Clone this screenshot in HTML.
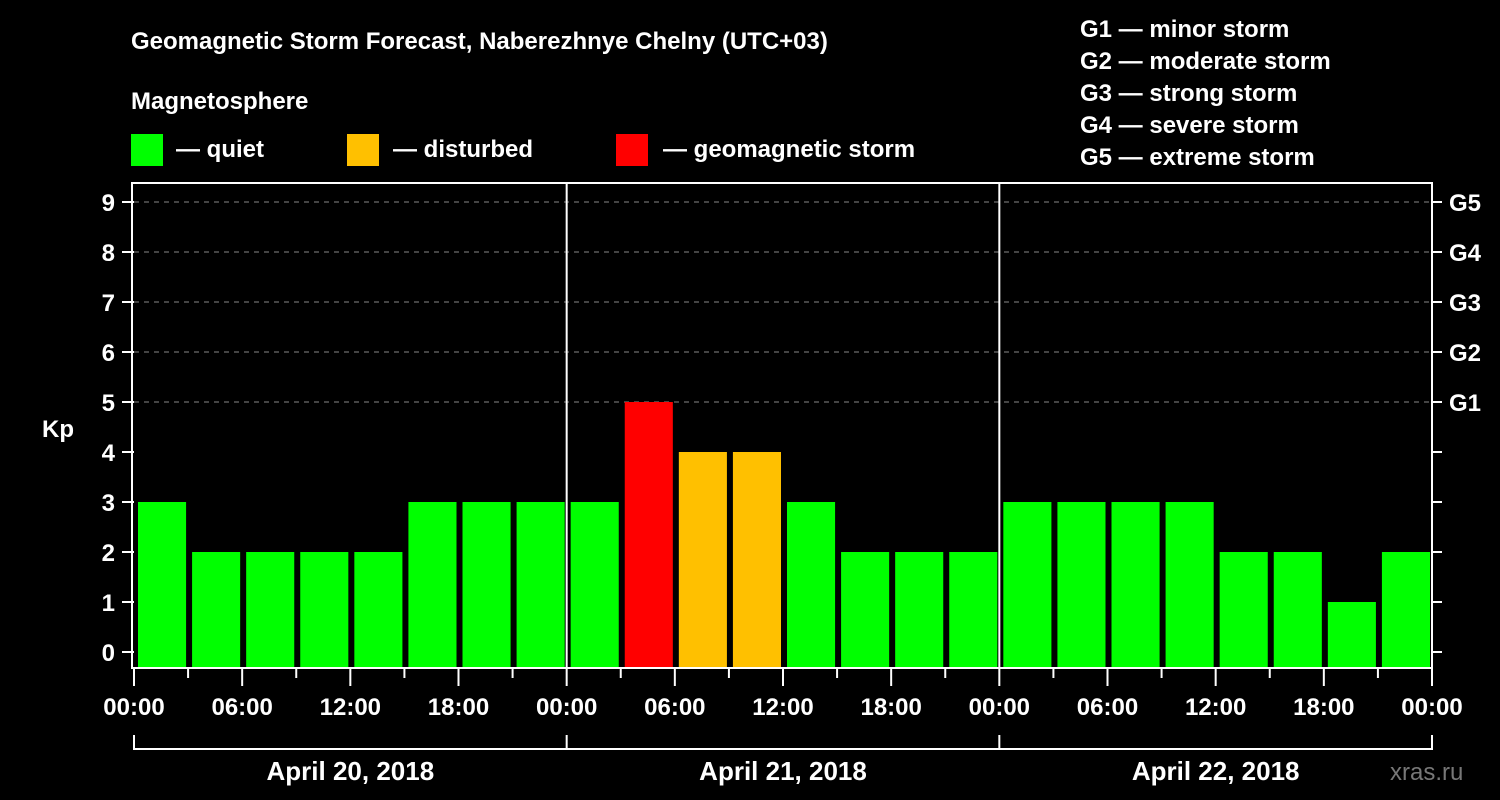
<!DOCTYPE html>
<html><head><meta charset="utf-8"><style>
html,body{margin:0;padding:0;background:#000;}
svg{display:block;font-family:"Liberation Sans",Arial,sans-serif;font-weight:bold;}
</style></head><body>
<svg id="chart" width="1500" height="800" viewBox="0 0 1500 800">
<rect width="1500" height="800" fill="#000"/>
<text x="131" y="49" font-size="24" fill="#fff">Geomagnetic Storm Forecast, Naberezhnye Chelny (UTC+03)</text>
<text x="131" y="109" font-size="24" fill="#fff">Magnetosphere</text>
<g><rect x="131" y="134" width="32" height="32" fill="#00ff00"/><text x="176" y="157" font-size="24" fill="#fff">— quiet</text></g>
<g><rect x="347" y="134" width="32" height="32" fill="#ffc000"/><text x="393" y="157" font-size="24" fill="#fff">— disturbed</text></g>
<g><rect x="616" y="134" width="32" height="32" fill="#ff0000"/><text x="663" y="157" font-size="24" fill="#fff">— geomagnetic storm</text></g>
<g font-size="24" fill="#fff">
<text x="1080" y="37">G1 — minor storm</text>
<text x="1080" y="69">G2 — moderate storm</text>
<text x="1080" y="101">G3 — strong storm</text>
<text x="1080" y="133">G4 — severe storm</text>
<text x="1080" y="165">G5 — extreme storm</text>
</g>
<text x="42" y="437" font-size="24" fill="#fff">Kp</text>
<g id="grid"></g>
<g id="bars"></g>
<g id="axes"></g>
<text x="1390" y="780" font-size="24" fill="#777" font-weight="normal">xras.ru</text>
</svg>
<script>
const days = ["April 20, 2018","April 21, 2018","April 22, 2018"];
const kpValues = [3,2,2,2,2,3,3,3, 3,5,4,4,3,2,2,2, 3,3,3,3,2,2,1,2];
const timeLabels = ["00:00","06:00","12:00","18:00"];
const gLabels = ["G1","G2","G3","G4","G5"];
const yTicks = [0,1,2,3,4,5,6,7,8,9];

const NS="http://www.w3.org/2000/svg";
const X0=134, X1=1432, TOP=183, BOT=668;
const slotW=(X1-X0)/kpValues.length;
const xs=i=>X0+i*slotW;
const ys=v=>652-v*50;
function mk(tag,attrs,parent,txt){const e=document.createElementNS(NS,tag);for(const k in attrs)e.setAttribute(k,attrs[k]);if(txt!==undefined)e.textContent=txt;parent.appendChild(e);return e;}
const grid=document.getElementById('grid'),bars=document.getElementById('bars'),axes=document.getElementById('axes');
// gridlines
yTicks.forEach(v=>{ if(v>=5){const l=mk('line',{x1:X0,x2:X1,y1:ys(v),y2:ys(v),stroke:'#888','stroke-width':1,'stroke-dasharray':'5,5'},grid);

}});
// bars
kpValues.forEach((v,i)=>{
 const c=v>=5?'#ff0000':(v>=4?'#ffc000':'#00ff00');
 const r=mk('rect',{x:xs(i)+4,y:ys(v),width:slotW-6,height:BOT-ys(v),fill:c},bars);
 
 
});
// frame
const fr=mk('rect',{x:X0-2,y:TOP,width:X1-X0+2,height:BOT-TOP,fill:'none',stroke:'#fff','stroke-width':2},axes);


// day separators & bracket
const nd=days.length, perDay=kpValues.length/nd;
for(let d=0;d<=nd;d++){
 const x=xs(d*perDay);
 if(d>0&&d<nd){const s=mk('line',{x1:x,x2:x,y1:TOP,y2:BOT,stroke:'#fff','stroke-width':2},axes);
 
 }
 const b=mk('line',{x1:x,x2:x,y1:735,y2:750,stroke:'#fff','stroke-width':2},axes);
 
 
}
const br=mk('line',{x1:xs(0),x2:xs(kpValues.length),y1:749,y2:749,stroke:'#fff','stroke-width':2},axes);


days.forEach((d,i)=>{
 const t=mk('text',{x:(xs(i*perDay)+xs((i+1)*perDay))/2,y:780,'font-size':26,fill:'#fff','text-anchor':'middle'},axes,d);
 
 
});
// x ticks
for(let i=0;i<=kpValues.length;i++){
 const x=xs(i), major=i%2===0;
 const l=mk('line',{x1:x,x2:x,y1:BOT,y2:major?686:678,stroke:'#fff','stroke-width':2},axes);
 
 
 if(major){
  const t=mk('text',{x:x,y:715,'font-size':24,fill:'#fff','text-anchor':'middle'},axes,timeLabels[(i/2)%4]);
  
  
 }
}
// y ticks
yTicks.forEach(v=>{
 const l=mk('line',{x1:122,x2:X0,y1:ys(v),y2:ys(v),stroke:'#fff','stroke-width':2},axes);
 
 
 const r=mk('line',{x1:X1,x2:1442,y1:ys(v),y2:ys(v),stroke:'#fff','stroke-width':2},axes);
 
 
 const t=mk('text',{x:115,y:ys(v)+9,'font-size':24,fill:'#fff','text-anchor':'end'},axes,String(v));
 
 
 if(v>=5){
  const g=mk('text',{x:1449,y:ys(v)+9,'font-size':24,fill:'#fff'},axes,gLabels[v-5]);
  
  
 }
});
</script>
</body></html>
